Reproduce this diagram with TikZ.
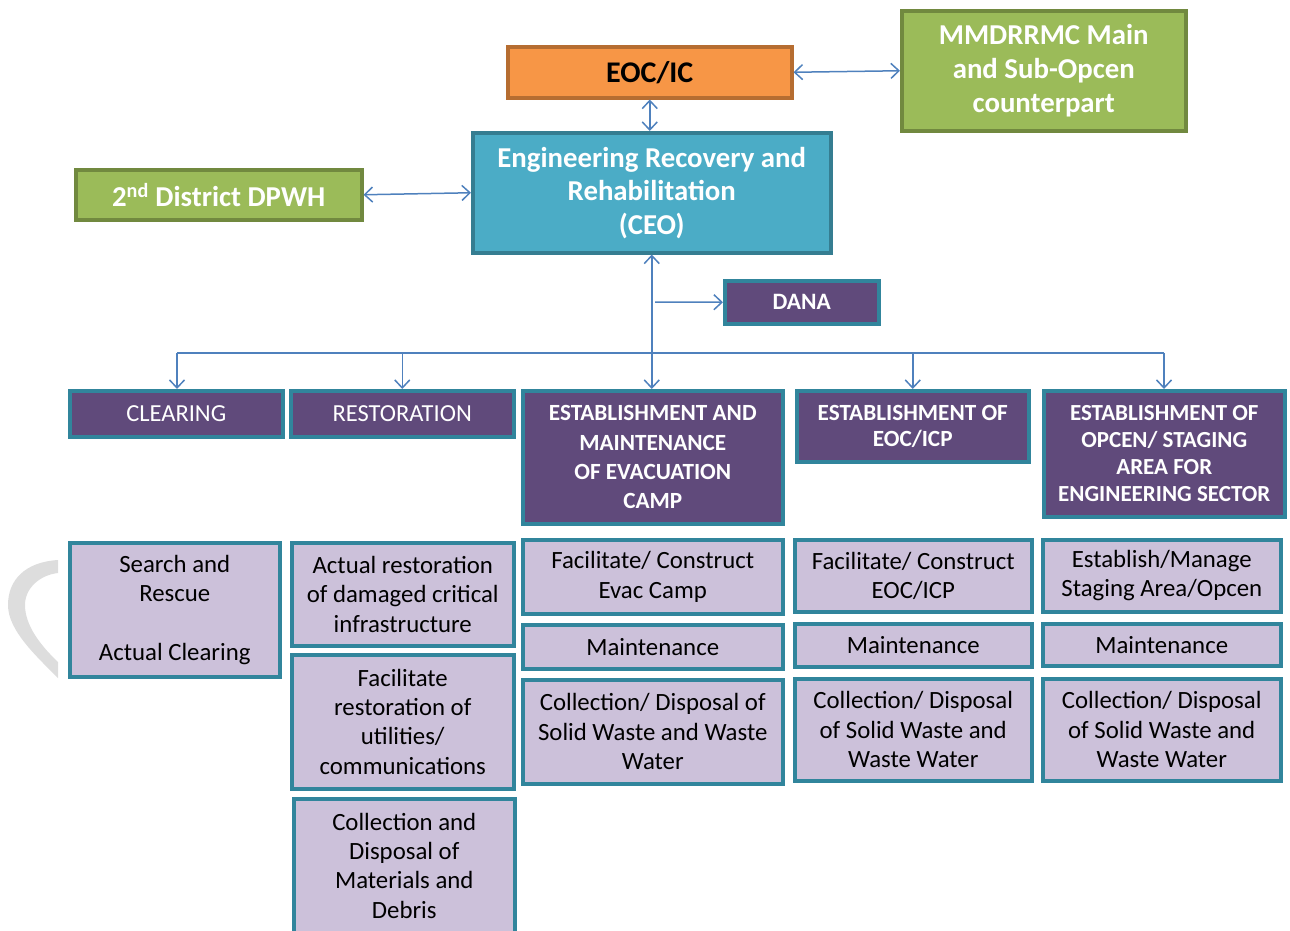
\documentclass[tikz,border=0pt]{standalone}
\usepackage{fontspec}
\setmainfont{Carlito}
\usetikzlibrary{arrows.meta}
\definecolor{purp}{HTML}{604A7B}
\definecolor{lav}{HTML}{CCC1DA}
\definecolor{tealb}{HTML}{31859C}
\definecolor{cyanf}{HTML}{4BACC6}
\definecolor{cyanb}{HTML}{357D91}
\definecolor{grnf}{HTML}{9BBB59}
\definecolor{grnb}{HTML}{71893F}
\definecolor{orf}{HTML}{F79646}
\definecolor{orb}{HTML}{B66D31}
\definecolor{arr}{HTML}{4F81BD}
\definecolor{wm}{HTML}{DDDDDD}
\tikzset{
  bx/.style={draw, line width=3.5pt, rectangle, inner sep=1pt, align=center, anchor=north west},
  orbox/.style={bx, fill=orf, draw=orb, text=black, font=\bfseries\fontsize{30}{34}\selectfont},
  grbox/.style={bx, fill=grnf, draw=grnb, text=white, font=\bfseries\fontsize{28.8}{34}\selectfont},
  cybox/.style={bx, fill=cyanf, draw=cyanb, text=white, font=\bfseries\fontsize{28.8}{33.5}\selectfont},
  hdbox/.style={bx, fill=purp, draw=tealb, text=white, font=\bfseries\fontsize{23.2}{28}\selectfont},
  hdreg/.style={bx, fill=purp, draw=tealb, text=white, font=\fontsize{24.5}{28}\selectfont},
  lvbox/.style={bx, fill=lav, draw=tealb, text=black, font=\fontsize{24.8}{29.3}\selectfont},
  conn/.style={draw=arr, line width=1.5pt},
  ar/.style={conn, -{Straight Barb[length=8pt,width=15pt]}},
  dar/.style={conn, {Straight Barb[length=8pt,width=15pt]}-{Straight Barb[length=8pt,width=15pt]}},
}
\begin{document}
\begin{tikzpicture}[x=1pt,y=-1pt]
\useasboundingbox (0,0) rectangle (1290,930);
% watermark fragment
\fill[wm] (58,560) .. controls (25,562) and (8,580) .. (8,605)
  .. controls (8,630) and (35,655) .. (58,678) -- (58,662)
  .. controls (40,645) and (25,625) .. (25,605)
  .. controls (25,588) and (40,575) .. (58,573) -- cycle;
% top
\node[orbox, minimum width=284pt, minimum height=51pt] (eoc) at (506,45) {EOC/IC};
\node[grbox, minimum width=284pt, minimum height=120pt] (mmd) at (900,9) {MMDRRMC Main\\and Sub-Opcen\\counterpart};
\node[cybox, minimum width=358pt, minimum height=120pt] (ceo) at (471,131) {Engineering Recovery and\\Rehabilitation\\(CEO)};
\node[grbox, minimum width=286pt, minimum height=50pt] (dpwh) at (74,168) {2\textsuperscript{nd} District DPWH};
\node[hdbox, minimum width=154pt, minimum height=43pt, font=\bfseries\fontsize{23.5}{26}\selectfont] (dana) at (723,279) {DANA};
% headers
\node[hdreg, minimum width=213pt, minimum height=46pt] (clr) at (68,389) {CLEARING};
\node[hdreg, minimum width=223pt, minimum height=46pt] (rst) at (289,389) {RESTORATION};
\node[hdbox, minimum width=260pt, minimum height=133pt, font=\bfseries\fontsize{23.2}{29.3}\selectfont] (evac) at (521,389) {ESTABLISHMENT AND\\MAINTENANCE\\OF EVACUATION\\CAMP};
\node[hdbox, minimum width=232pt, minimum height=71pt, font=\bfseries\fontsize{23.2}{26}\selectfont] (eocp) at (795,389) {ESTABLISHMENT OF\\EOC/ICP};
\node[hdbox, minimum width=241pt, minimum height=126pt, font=\bfseries\fontsize{23}{27}\selectfont] (opc) at (1042,389) {ESTABLISHMENT OF\\OPCEN/ STAGING\\AREA FOR\\ENGINEERING SECTOR};
% task boxes
\node[lvbox, minimum width=210pt, minimum height=134pt] (b1) at (68,541) {Search and\\Rescue\\[29.3pt]Actual Clearing};
\node[lvbox, minimum width=222pt, minimum height=103pt] (b2) at (290,541) {Actual restoration\\of damaged critical\\infrastructure};
\node[lvbox, minimum width=222pt, minimum height=134pt] (b3) at (290,653) {Facilitate\\restoration of\\utilities/\\communications};
\node[lvbox, minimum width=221pt, minimum height=134pt] (b4) at (292,797) {Collection and\\Disposal of\\Materials and\\Debris};
\node[lvbox, minimum width=260pt, minimum height=74pt] (e1) at (521,538) {Facilitate/ Construct\\Evac Camp};
\node[lvbox, minimum width=260pt, minimum height=44pt] (e2) at (521,623) {Maintenance};
\node[lvbox, minimum width=260pt, minimum height=104pt] (e3) at (521,678) {Collection/ Disposal of\\Solid Waste and Waste\\Water};
\node[lvbox, minimum width=237pt, minimum height=72pt] (c1) at (793,538) {Facilitate/ Construct\\EOC/ICP};
\node[lvbox, minimum width=237pt, minimum height=43pt] (c2) at (793,622) {Maintenance};
\node[lvbox, minimum width=237pt, minimum height=102pt] (c3) at (793,677) {Collection/ Disposal\\of Solid Waste and\\Waste Water};
\node[lvbox, minimum width=238pt, minimum height=72pt] (o1) at (1041,538) {Establish/Manage\\Staging Area/Opcen};
\node[lvbox, minimum width=238pt, minimum height=42pt] (o2) at (1041,622) {Maintenance};
\node[lvbox, minimum width=238pt, minimum height=102pt] (o3) at (1041,677) {Collection/ Disposal\\of Solid Waste and\\Waste Water};
% connectors
\draw[dar] (eoc.east) -- (mmd.west);
\draw[dar] (dpwh.east) -- (ceo.west);
\draw[dar] (eoc.south) -- (eoc.south |- ceo.north);
\draw[dar] (ceo.south) -- (ceo.south |- evac.north);
\coordinate (dstart) at (655,302);
\draw[ar] (dstart) -- (dana.west);
\coordinate (busL) at (177,353);
\coordinate (busR) at (1164,353);
\draw[conn] (busL) -- (busR);
\draw[ar] (busL) -- (busL |- clr.north);
\draw[ar] (rst.north |- busL) -- (rst.north);
\draw[ar] (eocp.north |- busL) -- (eocp.north);
\draw[ar] (busR) -- (busR |- opc.north);
\end{tikzpicture}
\end{document}
